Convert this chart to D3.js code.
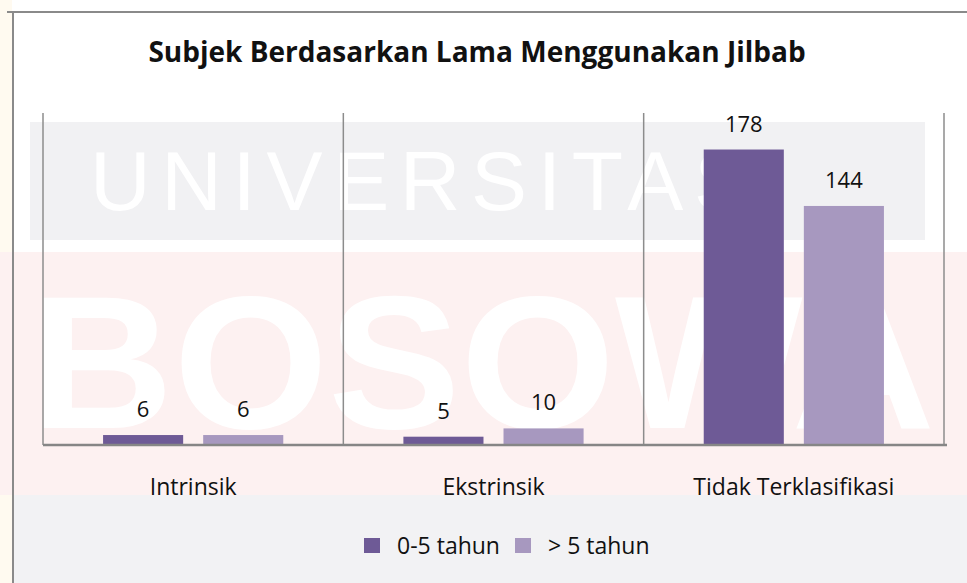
<!DOCTYPE html>
<html>
<head>
<meta charset="utf-8">
<script src="https://cdn.jsdelivr.net/npm/d3@7"></script>
<style>
  body { margin: 0; background: #fff; }
  svg { display: block; font-family: "Open Sans", sans-serif; }
</style>
</head>
<body>
<div id="chart"></div>
<script>
var w = 967, h = 583;

// Data
var categories = ["Intrinsik", "Ekstrinsik", "Tidak Terklasifikasi"];
var seriesNames = ["0-5 tahun", "> 5 tahun"];
var series1 = [6, 5, 178];
var series2 = [6, 10, 144];
var colors = ["#6e5a96", "#a798bf"];

var plotLeft = 43, plotRight = 944, plotTop = 113, plotBottom = 445;

var svg = d3.select("#chart")
  .append("svg")
  .attr("width", w)
  .attr("height", h);

// Faint watermark behind the chart
var wm = svg.append("g").attr("class", "watermark");
wm.append("rect").attr("x", 0).attr("y", 0).attr("width", 12).attr("height", h).attr("fill", "#fffaf0");
wm.append("rect").attr("x", 30).attr("y", 122).attr("width", 895).attr("height", 118).attr("fill", "#f1f1f3");
wm.append("rect").attr("x", 0).attr("y", 252).attr("width", w).attr("height", 243).attr("fill", "#fdf1f1");
wm.append("rect").attr("x", 14).attr("y", 495).attr("width", w).attr("height", 90).attr("fill", "#f2f2f4");
wm.append("text")
  .attr("x", 90).attr("y", 210)
  .attr("font-family", "Liberation Sans, sans-serif")
  .attr("font-size", 84)
  .attr("textLength", 660)
  .attr("lengthAdjust", "spacing")
  .attr("fill", "#ffffff")
  .text("UNIVERSITAS");
wm.append("text")
  .attr("x", 30).attr("y", 428)
  .attr("font-family", "Liberation Sans, sans-serif")
  .attr("font-weight", "bold")
  .attr("font-size", 190)
  .attr("textLength", 905)
  .attr("lengthAdjust", "spacingAndGlyphs")
  .attr("fill", "#ffffff")
  .text("BOSOWA");

// Chart frame
svg.append("path")
  .attr("d", "M7,12H" + w + "M13,12V" + h)
  .attr("fill", "none")
  .attr("stroke", "#8a8a8a")
  .attr("stroke-width", 2);

// Scales
var xScale = d3.scaleBand()
  .domain(categories)
  .range([plotLeft, plotRight]);

var xInner = d3.scaleBand()
  .domain(seriesNames)
  .range([0, xScale.bandwidth()])
  .paddingInner(0.2)
  .paddingOuter(0.6);

var yScale = d3.scaleLinear()
  .domain([0, 200])
  .range([plotBottom, plotTop]);

// Category separators
var seps = [plotLeft].concat(categories.map(function(c) {
  return xScale(c) + xScale.bandwidth();
}));
svg.append("g")
  .selectAll("line")
  .data(seps)
  .enter()
  .append("line")
  .attr("x1", function(d) { return d; })
  .attr("x2", function(d) { return d; })
  .attr("y1", plotTop)
  .attr("y2", plotBottom)
  .attr("stroke", "#8c8c8c")
  .attr("stroke-width", 1.5);

// Bars
var rows = [];
categories.forEach(function(c, i) {
  rows.push({ cat: c, s: 0, v: series1[i] });
  rows.push({ cat: c, s: 1, v: series2[i] });
});

svg.append("g")
  .selectAll("rect")
  .data(rows)
  .enter()
  .append("rect")
  .attr("x", function(d) { return xScale(d.cat) + xInner(seriesNames[d.s]); })
  .attr("y", function(d) { return yScale(d.v); })
  .attr("width", xInner.bandwidth())
  .attr("height", function(d) { return plotBottom - yScale(d.v); })
  .attr("fill", function(d) { return colors[d.s]; });

// Value labels
svg.append("g")
  .selectAll("text")
  .data(rows)
  .enter()
  .append("text")
  .attr("x", function(d) { return xScale(d.cat) + xInner(seriesNames[d.s]) + xInner.bandwidth() / 2; })
  .attr("y", function(d) { return yScale(d.v) - 18; })
  .attr("text-anchor", "middle")
  .attr("font-size", 22)
  .attr("fill", "#111")
  .text(function(d) { return d.v; });

// Baseline
svg.append("line")
  .attr("x1", plotLeft)
  .attr("x2", plotRight + 3)
  .attr("y1", plotBottom)
  .attr("y2", plotBottom)
  .attr("stroke", "#868686")
  .attr("stroke-width", 2.5);

// X axis labels
var xAxis = d3.axisBottom(xScale).tickSize(0).tickPadding(0);
var gx = svg.append("g")
  .attr("transform", "translate(0," + plotBottom + ")")
  .call(xAxis);
gx.select(".domain").remove();
gx.selectAll("text")
  .attr("dy", null)
  .attr("y", 50)
  .attr("font-family", "Open Sans, sans-serif")
  .attr("font-size", 23)
  .attr("fill", "#111");

// Title
svg.append("text")
  .attr("x", 477)
  .attr("y", 62)
  .attr("text-anchor", "middle")
  .attr("font-size", 28)
  .attr("font-weight", "bold")
  .attr("fill", "#111")
  .text("Subjek Berdasarkan Lama Menggunakan Jilbab");

// Legend
var legendX = [364, 515];
var legend = svg.append("g")
  .selectAll("g")
  .data(seriesNames)
  .enter()
  .append("g")
  .attr("transform", function(d, i) { return "translate(" + legendX[i] + ",538)"; });
legend.append("rect")
  .attr("width", 16)
  .attr("height", 15)
  .attr("fill", function(d, i) { return colors[i]; });
legend.append("text")
  .attr("x", 33)
  .attr("y", 16)
  .attr("font-size", 23)
  .attr("fill", "#111")
  .text(function(d) { return d; });
</script>
</body>
</html>
